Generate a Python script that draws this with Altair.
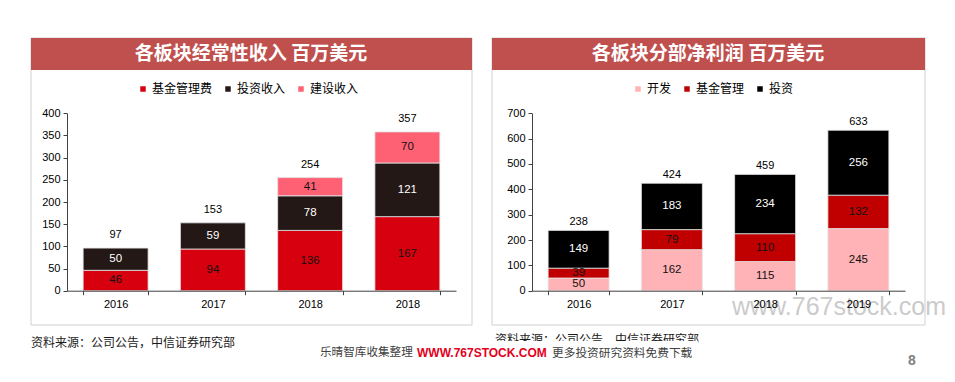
import json
import altair as alt
import pandas as pd

# ---------------- data ----------------
left_years = ["2016", "2017", "2018", "2018"]
left_series = ["基金管理费", "投资收入", "建设收入"]
left_fund = [46, 94, 136, 167]
left_invest = [50, 59, 78, 121]
left_build = [None, None, 41, 70]
left_total = [97, 153, 254, 357]
left_ticks = [0, 50, 100, 150, 200, 250, 300, 350, 400]

right_years = ["2016", "2017", "2018", "2019"]
right_series = ["开发", "基金管理", "投资"]
right_dev = [50, 162, 115, 245]
right_fund = [39, 79, 110, 132]
right_invest = [149, 183, 234, 256]
right_total = [238, 424, 459, 633]
right_ticks = [0, 100, 200, 300, 400, 500, 600, 700]

CJK = "Noto Sans CJK SC"
NUM = "Liberation Sans"


def long_df(series_names, series_values):
    rows = []
    n = len(series_values[0])
    for i in range(n):
        cum = 0
        for k, (name, vals) in enumerate(zip(series_names, series_values)):
            v = vals[i]
            if v is None:
                continue
            rows.append(dict(idx=i, series=name, value=v, order=k, mid=cum + v / 2))
            cum += v
    return pd.DataFrame(rows)


left_df = long_df(left_series, [left_fund, left_invest, left_build])
right_df = long_df(right_series, [right_dev, right_fund, right_invest])
left_tot = pd.DataFrame({"idx": list(range(len(left_total))), "total": left_total})
right_tot = pd.DataFrame({"idx": list(range(len(right_total))), "total": right_total})

W, H = 939, 366


def panel(df, tot, years, names, colors, white_series, ymax, ticks,
          x_range, y_range, pad, legend_x, legend_y, total_dy):
    x_axis = alt.Axis(orient="bottom", offset=-(H - y_range[0]), title=None,
                      labelExpr=json.dumps(years) + "[datum.value]", labelAngle=0,
                      tickBand="extent", tickSize=4, tickColor="#404040",
                      domainColor="#404040", labelFont=NUM, labelFontSize=11,
                      labelColor="#000000", labelPadding=4, grid=False, zindex=2)
    y_axis = alt.Axis(orient="left", offset=-x_range[0], title=None, values=ticks,
                      tickSize=4, tickColor="#404040", domainColor="#404040",
                      labelFont=NUM, labelFontSize=11, labelColor="#000000",
                      labelPadding=3, grid=False, zindex=2)
    xs = alt.Scale(range=x_range, paddingInner=pad, paddingOuter=pad / 2)
    ys = alt.Scale(domain=[0, ymax], range=y_range, nice=False, zero=True)

    bars = alt.Chart(df).mark_bar(stroke="#e6e6e6", strokeWidth=0.8).encode(
        x=alt.X("idx:O", scale=xs, axis=x_axis),
        y=alt.Y("value:Q", stack="zero", scale=ys, axis=y_axis),
        color=alt.Color("series:N",
                        scale=alt.Scale(domain=names, range=colors),
                        legend=alt.Legend(orient="none", legendX=legend_x, legendY=legend_y,
                                          direction="horizontal", title=None,
                                          symbolType="square", symbolSize=30,
                                          symbolStrokeWidth=0,
                                          labelFont=CJK, labelFontSize=12,
                                          labelColor="#000000", columnPadding=9,
                                          labelOffset=3, padding=0)),
        order=alt.Order("order:Q"),
    )
    seg = alt.Chart(df).mark_text(font=NUM, fontSize=11.5, baseline="middle").encode(
        x=alt.X("idx:O", scale=xs, axis=x_axis),
        y=alt.Y("mid:Q", scale=ys, axis=y_axis),
        text=alt.Text("value:Q"),
        color=alt.condition(alt.datum.series == white_series,
                            alt.value("#ffffff"), alt.value("#111111")),
    )
    tots = alt.Chart(tot).mark_text(font=NUM, fontSize=11, baseline="middle",
                                    dy=total_dy, color="#000000").encode(
        x=alt.X("idx:O", scale=xs, axis=x_axis),
        y=alt.Y("total:Q", scale=ys, axis=y_axis),
        text=alt.Text("total:Q"),
    )
    return alt.layer(bars, seg, tots)


left = panel(left_df, left_tot, left_years, left_series,
             ["#D7000F", "#231815", "#FF6174"], "投资收入", 400, left_ticks,
             [59, 448], [282.7, 105.3], 0.332, 129, 75, -13)
right = panel(right_df, right_tot, right_years, right_series,
              ["#FFB3B6", "#C00000", "#000000"], "投资", 700, right_ticks,
              [524, 897], [282.7, 105.3], 0.346, 624, 75, -8)

dummy = pd.DataFrame({"a": [0]})


def rect(x, x2, y, y2, **kw):
    return alt.Chart(dummy).mark_rect(**kw).encode(
        x=alt.value(x), x2=alt.value(x2), y=alt.value(y), y2=alt.value(y2))


def label(txt, x, y, **kw):
    return alt.Chart(dummy).mark_text(text=txt, baseline="middle", **kw).encode(
        x=alt.value(x), y=alt.value(y))


frames = [
    rect(23, 464, 30, 317, fill="#ffffff", stroke="#d0d0d0", strokeWidth=1),
    rect(484, 917, 30, 317, fill="#ffffff", stroke="#d0d0d0", strokeWidth=1),
    rect(23, 464, 30, 62, fill="#C0504D"),
    rect(484, 917, 30, 62, fill="#C0504D"),
    label("各板块经常性收入  百万美元", 243, 46, font=CJK, fontSize=19,
          fontWeight="bold", color="#ffffff", align="center"),
    label("各板块分部净利润 百万美元", 700, 46, font=CJK, fontSize=19,
          fontWeight="bold", color="#ffffff", align="center"),
]

overlays = [
    label("www.767stock.com", 724, 299, font=NUM, fontSize=25,
          color="#cbcbcb", align="left"),
    label("资料来源：公司公告，中信证券研究部", 23, 335, font=CJK, fontSize=12,
          color="#1a1a1a", align="left"),
    label("资料来源：公司公告，中信证券研究部", 487, 332, font=CJK, fontSize=12,
          color="#1a1a1a", align="left"),
    rect(310, 690, 333, 357, fill="#ffffff"),
    label("乐晴智库收集整理", 312, 345, font=CJK, fontSize=11.6,
          color="#404040", align="left"),
    label("WWW.767STOCK.COM", 409, 345, font=NUM, fontSize=12, fontWeight="bold",
          color="#E3001B", align="left"),
    label("更多投资研究资料免费下载", 544, 345, font=CJK, fontSize=11.7,
          color="#404040", align="left"),
    label("8", 904, 353, font=NUM, fontSize=14, fontWeight="bold",
          color="#7f7f7f", align="center"),
]

chart = alt.layer(*frames, left, right, *overlays).resolve_scale(
    x="independent", y="independent", color="independent"
).properties(
    width=W, height=H, padding=0,
    autosize=alt.AutoSizeParams(type="none"),
    background="#ffffff",
).configure_view(stroke=None)

chart.save("out.html", embed_options={"renderer": "svg", "actions": False})
